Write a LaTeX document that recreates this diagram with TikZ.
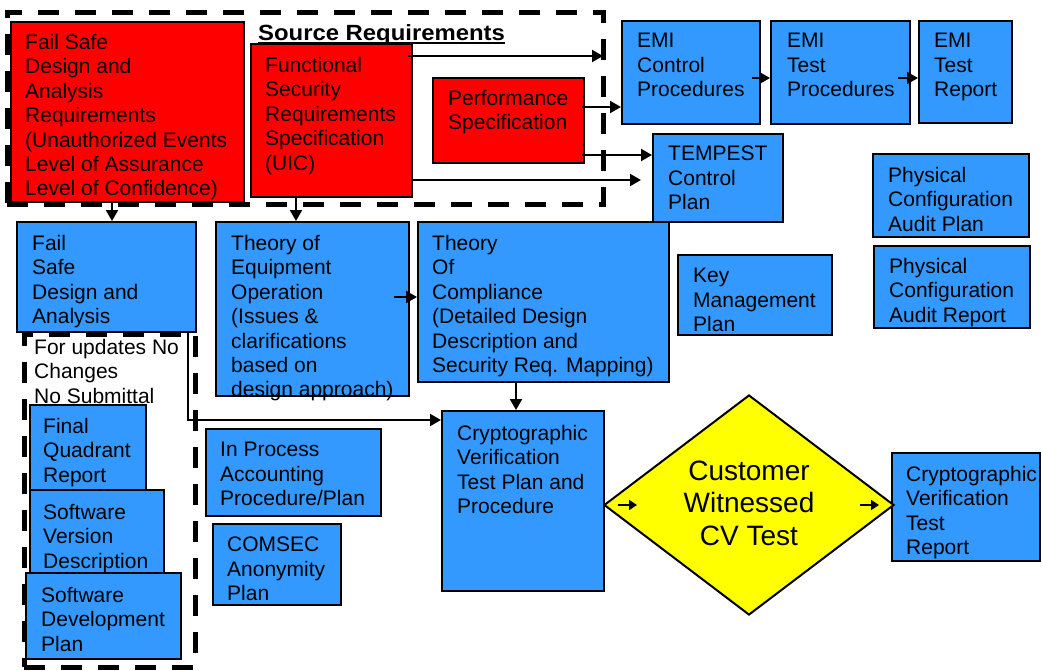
\documentclass[tikz,border=0pt]{standalone}
\usepackage{fontspec}
\setmainfont{Liberation Sans}
\usetikzlibrary{fit,arrows.meta,shapes.geometric}
\definecolor{boxblue}{RGB}{51,153,255}
\definecolor{boxred}{RGB}{255,0,0}
\definecolor{dyellow}{RGB}{255,255,0}
\begin{document}
\begin{tikzpicture}[x=1pt,y=-1pt,
  frame/.style={draw=black,line width=2pt,inner sep=0pt},
  bluebox/.style={frame,fill=boxblue},
  redbox/.style={frame,fill=boxred},
  txt/.style={anchor=north west,inner sep=0pt,align=left,font=\fontsize{21}{24.4}\selectfont},
  arr/.style={line width=2.2pt,-{Triangle[length=11pt,width=12pt]}},
  sarr/.style={line width=2.2pt,-{Triangle[length=8pt,width=10pt]}},
  group/.style={draw=black,inner sep=0pt,line width=5pt,dash pattern=on 21pt off 16pt}]
\useasboundingbox (0,0) rectangle (1042,670);

% dashed groups
\node[group,fit={(7,12) (603,204)}] (srcGroup) {};
\node[group,fit={(24,334) (195,667)}] (updGroup) {};

% red source boxes
\node[redbox,fit={(11,22) (244,202)}] (fsR) {};
\node[redbox,fit={(251,44) (412,197)}] (fnR) {};
\node[redbox,fit={(433,78) (584,163)}] (pfR) {};

% blue boxes
\node[bluebox,fit={(622,21) (760,124)}] (emiC) {};
\node[bluebox,fit={(771,21) (910,124)}] (emiT) {};
\node[bluebox,fit={(919,21) (1012,123)}] (emiR) {};
\node[bluebox,fit={(653,134) (783,222)}] (temp) {};
\node[bluebox,fit={(873,154) (1029,237)}] (pcaP) {};
\node[bluebox,fit={(874,246) (1030,328)}] (pcaR) {};
\node[bluebox,fit={(678,255) (832,335)}] (key) {};
\node[bluebox,fit={(17,222) (196,332)}] (fsB) {};
\node[bluebox,fit={(216,222) (409,396)}] (teo) {};
\node[bluebox,fit={(418,222) (669,382)}] (toc) {};
\node[bluebox,fit={(30,405) (146,490)}] (fqr) {};
\node[bluebox,fit={(30,490) (164,573)}] (svd) {};
\node[bluebox,fit={(26,573) (181,659)}] (sdp) {};
\node[bluebox,fit={(206,429) (381,516)}] (ipa) {};
\node[bluebox,fit={(213,524) (341,605)}] (com) {};
\node[bluebox,fit={(442,411) (604,591)}] (cvp) {};
\node[bluebox,fit={(892,453) (1040,561)}] (cvr) {};
\node[diamond,draw=black,line width=2pt,fill=dyellow,inner sep=0pt,
      minimum width=290pt,minimum height=220pt] (dia) at (749,505) {};

% texts
\node[txt] (fsRt) at (25,34) {Fail Safe\\Design and\\Analysis\\Requirements\\(Unauthorized Events\\Level of Assurance\\Level of Confidence)};
\node[anchor=base west,inner sep=0pt,font=\bfseries\fontsize{22}{26}\selectfont] (srcL) at (258,40) {\scalebox{1.085}[1]{Source Requirements}};
\draw[line width=1.5pt] ([yshift=-3pt]srcL.base west) -- ([yshift=-3pt]srcL.base east);
\node[txt] (fnRt) at (265,57) {Functional\\Security\\Requirements\\Specification\\(UIC)};
\node[txt] (pfRt) at (448,90) {Performance\\Specification};
\node[txt] (emiCt) at (637,33) {EMI\\Control\\Procedures};
\node[txt] (emiTt) at (787,33) {EMI\\Test\\Procedures};
\node[txt] (emiRt) at (934,33) {EMI\\Test\\Report};
\node[txt] (tempt) at (668,146) {TEMPEST\\Control\\Plan};
\node[txt] (pcaPt) at (888,167) {Physical\\Configuration\\Audit Plan};
\node[txt] (pcaRt) at (889,258) {Physical\\Configuration\\Audit Report};
\node[txt] (keyt) at (693,268) {Key\\Management\\Plan};
\node[txt] (fsBt) at (32,235) {Fail\\Safe\\Design and\\Analysis};
\node[txt] (teot) at (231,235) {Theory of\\Equipment\\Operation\\(Issues \&\\clarifications\\based on\\design approach)};
\node[txt] (toct) at (432,235) {Theory\\Of\\Compliance\\(Detailed Design\\Description and\\Security Req. Mapping)};
\node[txt] (updt) at (34,339) {For updates No\\Changes\\No Submittal};
\node[txt] (fqrt) at (43,418) {Final\\Quadrant\\Report};
\node[txt] (svdt) at (43,504) {Software\\Version\\Description};
\node[txt] (sdpt) at (41,587) {Software\\Development\\Plan};
\node[txt] (ipat) at (220,442) {In Process\\Accounting\\Procedure/Plan};
\node[txt] (comt) at (227,537) {COMSEC\\Anonymity\\Plan};
\node[txt] (cvpt) at (457,425) {Cryptographic\\Verification\\Test Plan and\\Procedure};
\node[txt] (cvrt) at (906,466) {Cryptographic\\Verification\\Test\\Report};
\node[inner sep=0pt,align=center,font=\fontsize{28}{32.5}\selectfont] (diat) at (749,503) {Customer\\Witnessed\\CV Test};

% helper coordinates
\coordinate (fnEnd) at (603,56);
\coordinate (fnEndB) at (641,180);
\coordinate (xa) at (112,0);
\coordinate (xb) at (296,0);
\coordinate (xc) at (516,0);
\coordinate (xd) at (188,0);
\coordinate (ya) at (0,107);
\coordinate (yb) at (0,155);
\coordinate (yc) at (0,78);
\coordinate (yd) at (0,297);
\coordinate (ye) at (0,420);

% connectors
\draw[arr] (fsR.south -| xa) -- (fsB.north -| xa);
\draw[arr] (fnR.south -| xb) -- (teo.north -| xb);
\draw[arr] ([xshift=-5pt]fnR.east |- fnEnd) -- (fnEnd);
\draw[arr] ([xshift=-3pt]pfR.east |- ya) -- (emiC.west |- ya);
\draw[arr] ([xshift=-3pt]pfR.east |- yb) -- (temp.west |- yb);
\draw[arr] (fnR.east |- fnEndB) -- (fnEndB);
\draw[arr] ([xshift=-9pt]emiC.east |- yc) -- (emiT.west |- yc);
\draw[arr] ([xshift=-13pt]emiT.east |- yc) -- (emiR.west |- yc);
\draw[arr] ([xshift=-16pt]teo.east |- yd) -- (toc.west |- yd);
\draw[arr] (toc.south -| xc) -- (cvp.north -| xc);
\draw[arr] (fsB.south -| xd) -- (xd |- ye) -- (cvp.west |- ye);
\draw[sarr] ([xshift=15pt]dia.west) -- ([xshift=34pt]dia.west);
\draw[sarr] ([xshift=-35pt]dia.east) -- ([xshift=-16pt]dia.east);
\end{tikzpicture}
\end{document}
